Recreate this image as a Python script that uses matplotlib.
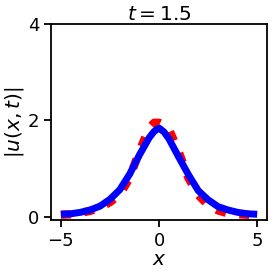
import numpy as np
import matplotlib
matplotlib.use('Agg')
import matplotlib.pyplot as plt

# values
x = [-5, -4.5, -4, -3.5, -3, -2.5, -2, -1.5, -1, -0.5, -0.25, 0,
     0.25, 0.5, 1, 1.5, 2, 2.5, 3, 3.5, 4, 4.5, 5]
u_exact = [0.05, 0.06, 0.09, 0.14, 0.22, 0.36, 0.56, 0.88, 1.28, 1.64, 1.77, 1.84,
           1.76, 1.62, 1.24, 0.87, 0.54, 0.35, 0.21, 0.14, 0.09, 0.06, 0.05]
u_pred = [0.04, 0.05, 0.08, 0.12, 0.19, 0.30, 0.46, 0.80, 1.36, 1.84, 1.95, 1.95,
          1.90, 1.82, 1.35, 0.80, 0.45, 0.24, 0.13, 0.07, 0.05, 0.04, 0.03]

fig = plt.figure(figsize=(2.73, 2.73), dpi=100)
ax = fig.add_axes([0.187, 0.194, 0.791, 0.718])

# prediction underneath, exact solution on top
ax.plot(x, u_pred, color='red', ls=(0, (1.2, 1.6)), lw=6)
ax.plot(x, u_exact, color='blue', lw=5, solid_capstyle='butt')

ax.set_xlim(-5.5, 5.5)
ax.set_ylim(-0.07, 4)
ax.set_xticks([-5, 0, 5])
ax.set_yticks([0, 2, 4])
ax.tick_params(labelsize=13, length=5, width=1.3)
for s in ax.spines.values():
    s.set_linewidth(1.3)

ax.set_xlabel('$x$', fontsize=14.5, labelpad=0)
ax.set_ylabel('$|u(x,t)|$', fontsize=14.5, labelpad=1)
ax.set_title('$t = 1.5$', fontsize=14.5, pad=2)

fig.savefig('out.png', dpi=100)
